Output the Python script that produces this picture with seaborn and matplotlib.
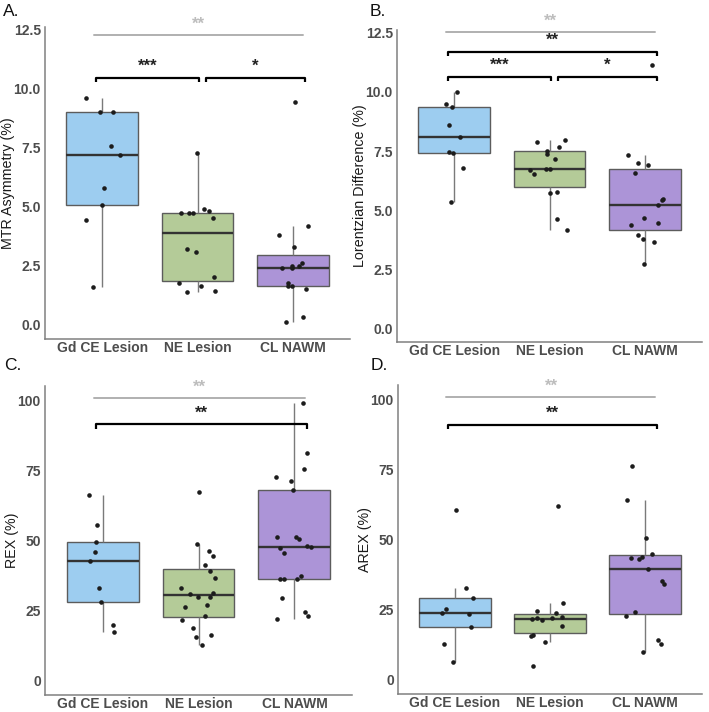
import numpy as np
import pandas as pd
import matplotlib
matplotlib.use('Agg')
import matplotlib.pyplot as plt
import seaborn as sns


groups = ['Gd CE Lesion', 'NE Lesion', 'CL NAWM']
colors = ['#9dcdf0', '#b4cb98', '#ac94d7']

# A. MTR asymmetry (%)
mtr_gd = [9.59, 9.02, 9.02, 7.56, 7.20, 5.80, 5.05, 4.45, 1.59]
mtr_ne = [7.28, 4.90, 4.80, 4.73, 4.73, 4.73, 4.52, 3.22, 3.09, 2.01, 1.78, 1.64, 1.43, 1.38]
mtr_cl = [9.42, 4.17, 3.79, 3.31, 2.60, 2.50, 2.47, 2.39, 2.39, 1.78, 1.64, 1.64, 1.52, 0.32, 0.11]

# B. Lorentzian difference (%)
lor_gd = [10.0, 9.48, 9.37, 8.61, 8.11, 7.47, 7.41, 6.80, 5.33]
lor_ne = [7.97, 7.86, 7.66, 7.52, 7.39, 7.15, 6.75, 6.73, 6.68, 6.51, 5.79, 5.74, 4.65, 4.18]
lor_cl = [11.12, 7.34, 7.01, 6.90, 6.59, 5.47, 5.43, 5.22, 4.68, 4.47, 4.40, 3.96, 3.80, 3.66, 2.75]

# C. REX (%)
rex_gd = [66.2, 55.6, 49.4, 45.9, 42.6, 33.0, 28.1, 19.8, 17.3]
rex_ne = [67.3, 48.9, 46.4, 44.6, 41.4, 39.3, 36.6, 33.1, 31.4, 31.1, 30.0, 30.0, 26.9, 26.4,
          23.0, 21.8, 19.0, 16.3, 15.8, 12.7]
rex_cl = [98.8, 81.0, 75.4, 72.5, 71.1, 67.9, 51.2, 51.2, 50.5, 48.1, 47.8, 47.2, 45.4, 37.3,
          36.4, 36.4, 36.3, 29.7, 24.6, 23.1, 21.9]

# D. AREX (%)
arex_gd = [60.4, 32.8, 29.3, 25.2, 23.9, 23.5, 18.8, 12.9, 6.5]
arex_ne = [62.0, 27.4, 24.7, 24.0, 22.4, 21.9, 21.9, 21.6, 21.2, 19.2, 15.9, 15.5, 13.5, 5.0]
arex_cl = [76.1, 64.0, 50.6, 45.0, 43.9, 43.3, 42.9, 39.4, 35.4, 34.3, 24.2, 22.7, 14.3, 12.9, 9.9]

# pairwise comparisons: (group i, group j, label)
sig_a = [(0, 1, '***'), (1, 2, '*')]
sig_b = [(0, 2, '**'), (0, 1, '***'), (1, 2, '*')]
sig_c = [(0, 2, '**')]
sig_d = [(0, 2, '**')]
overall_label = '**'


sns.set_theme(style='white')
plt.rcParams['font.family'] = ['Liberation Sans', 'DejaVu Sans']

np.random.seed(7)

W, H = 709, 712
fig = plt.figure(figsize=(W/100, H/100), dpi=100)


def bracket(ax, i, j, y, label, span):
    x0 = i - 0.07 if i == 0 else i + 0.09
    x1 = j + 0.02 if j == 1 else j + 0.13
    h = 0.013*span
    ax.plot([x0, x0, x1, x1], [y-h, y, y, y-h], color='black', lw=1.6, clip_on=False,
            solid_capstyle='butt')
    ax.text((x0+x1)/2, y + 0.036*span, label, ha='center', va='center',
            fontsize=12, fontweight='bold', color='#222222')


def overall(ax, y, span):
    ax.plot([-0.09, 2.11], [y, y], color='#b0b0b0', lw=1.4, clip_on=False)
    ax.text(1.01, y + 0.036*span, overall_label, ha='center', va='center',
            fontsize=12, fontweight='bold', color='#bdbdbd', clip_on=False)


panels = [
    # letter, ylabel, data, comparisons, ylim, ticks, tick fmt, bracket levels, grey level, rect (px)
    ('A.', 'MTR Asymmetry (%)', (mtr_gd, mtr_ne, mtr_cl), sig_a, (-0.6, 12.6),
     [0, 2.5, 5, 7.5, 10, 12.5], '{:.1f}', [10.46, 10.46], 12.26, (45, 27, 305, 312), (3, 12)),
    ('B.', 'Lorentzian Difference (%)', (lor_gd, lor_ne, lor_cl), sig_b, (-0.55, 12.6),
     [0, 2.5, 5, 7.5, 10, 12.5], '{:.1f}', [11.69, 10.64, 10.64], 12.51, (397, 30, 305, 312), (370, 12)),
    ('C.', 'REX (%)', (rex_gd, rex_ne, rex_cl), sig_c, (-5, 105),
     [0, 25, 50, 75, 100], '{:.0f}', [91.3], 100.6, (45, 386, 307, 309), (4, 366)),
    ('D.', 'AREX (%)', (arex_gd, arex_ne, arex_cl), sig_d, (-5, 105),
     [0, 25, 50, 75, 100], '{:.0f}', [90.9], 100.6, (398, 385, 304, 309), (371, 366)),
]

for letter, ylabel, data, sigs, ylim, ticks, fmt, levels, grey_y, rect, lpos in panels:
    l, t, w, h = rect
    ax = fig.add_axes([l/W, 1 - (t+h)/H, w/W, h/H])

    df = pd.DataFrame({
        'group': np.repeat(groups, [len(d) for d in data]),
        'value': np.concatenate(data),
    })

    sns.boxplot(data=df, x='group', y='value', hue='group', order=groups, hue_order=groups,
                palette=colors, saturation=1, width=0.75, showfliers=False, showcaps=False,
                linewidth=1.0, linecolor='#5c5c5c', legend=False, ax=ax,
                medianprops={'color': '#333333', 'linewidth': 1.7},
                whiskerprops={'color': '#7a7a7a', 'linewidth': 1.0})
    sns.stripplot(data=df, x='group', y='value', order=groups, color='#1c1c1c', size=3.3,
                  jitter=0.2, linewidth=0, ax=ax, zorder=3)

    span = ylim[1] - ylim[0]
    ax.set_xlim(-0.6, 2.6)
    ax.set_ylim(*ylim)
    ax.set_yticks(ticks)
    ax.set_yticklabels([fmt.format(v) for v in ticks])

    for (i, j, lab), y in zip(sigs, levels):
        bracket(ax, i, j, y, lab, span)
    overall(ax, grey_y, span)

    ax.set_xlabel('')
    ax.set_ylabel(ylabel, fontsize=10.3, color='#1a1a1a', labelpad=-1)
    for side in ['top', 'right']:
        ax.spines[side].set_visible(False)
    for side in ['left', 'bottom']:
        ax.spines[side].set_color('#808080')
        ax.spines[side].set_linewidth(1.1)
    ax.tick_params(axis='both', length=0, labelsize=10, labelcolor='#4d4d4d')
    ax.tick_params(axis='x', pad=1.5)
    ax.tick_params(axis='y', pad=3)
    for lab in ax.get_xticklabels() + ax.get_yticklabels():
        lab.set_fontweight('bold')

    fig.text(lpos[0]/W, 1 - lpos[1]/H, letter, fontsize=12.5, ha='left', va='center',
             color='#111111')

plt.savefig('out.png', dpi=100)
